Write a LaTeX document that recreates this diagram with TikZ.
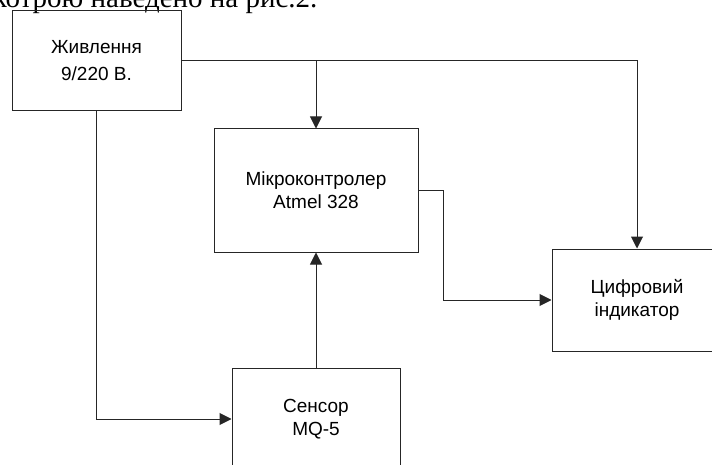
\documentclass[tikz,border=0pt]{standalone}
\usepackage{fontspec}
\setmainfont{Liberation Sans}
\newfontfamily\bodyserif{Liberation Serif}
\usetikzlibrary{arrows.meta}

\begin{document}
\begin{tikzpicture}[x=1pt, y=-1pt,
    block/.style={draw=black!85, line width=1pt, align=center, inner sep=0pt,
        font=\fontsize{19}{23}\selectfont},
    arr/.style={draw=black!85, line width=1pt, -{Triangle[length=12pt,width=12pt]}}]
    \useasboundingbox (0, 0) rectangle (712, 465);
    \clip (0, 0) rectangle (712, 465);
    \node [anchor=base east, font=\bodyserif\fontsize{29}{32}\selectfont] (cap) at (321, 8) {котрою наведено на рис.2.};
    \node [block, minimum width=169pt, minimum height=100pt, font=\fontsize{19}{27}\selectfont] (pwr) at (96.5, 61) {Живлення\\9/220 В.};
    \node [block, minimum width=204pt, minimum height=123pt] (mcu) at (316, 190.5) {Мікроконтролер\\Atmel 328};
    \node [block, minimum width=170pt, minimum height=102pt] (ind) at (637, 300) {Цифровий\\індикатор};
    \node [block, minimum width=168pt, minimum height=102pt] (sen) at (316, 419) {Сенсор\\MQ-5};
    \coordinate (tap) at (pwr.east -| mcu.north);
    \draw [arr] (pwr.east) -| (ind.north);
    \draw [arr] (tap) -- (mcu.north);
    \draw [arr] (pwr.south) |- (sen.west);
    \draw [arr] (sen.north) -- (mcu.south);
    \draw [arr] (mcu.east) -- ++(25, 0) |- (ind.west);
  \end{tikzpicture}
\end{document}
